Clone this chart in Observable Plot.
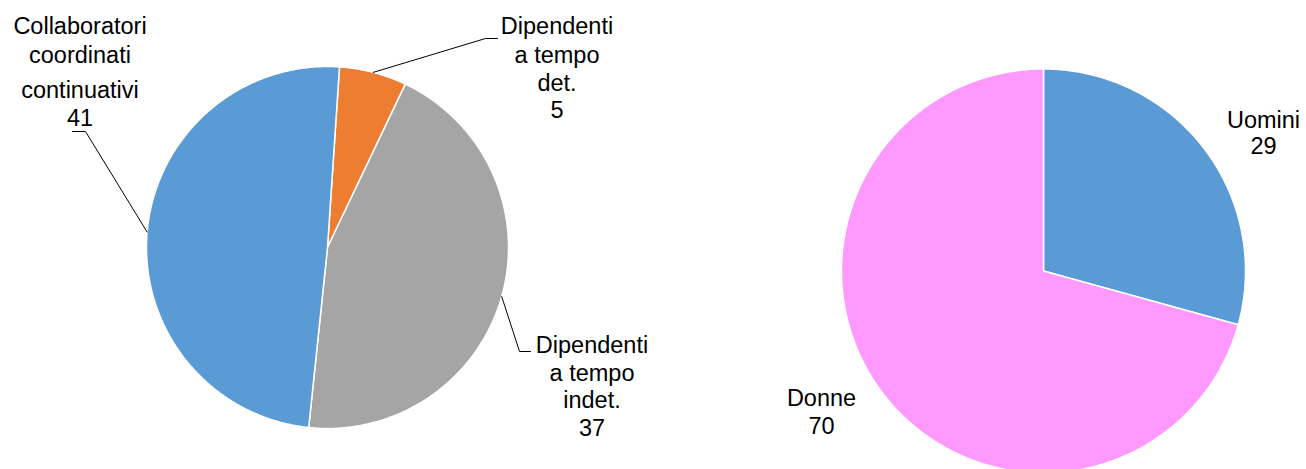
<!DOCTYPE html>
<html><head><meta charset="utf-8">
<script src="https://cdn.jsdelivr.net/npm/d3@7"></script>
<script src="https://cdn.jsdelivr.net/npm/@observablehq/plot@0.6"></script>
<style>body{margin:0;background:#fff;color:#000} svg{display:block}</style>
</head><body><div id="chart"></div>
<script>
// ---- data ----
const contractCategories = ["Dipendenti\na tempo\ndet.", "Dipendenti\na tempo\nindet.", "Collaboratori\ncoordinati\ncontinuativi"];
const contractValues = [5, 37, 41];
const contractColors = ["#ED7D31", "#A5A5A5", "#5B9BD5"];
const genderCategories = ["Uomini", "Donne"];
const genderValues = [29, 70];
const genderColors = ["#5B9BD5", "#FF99FF"];

// ---- layout ----
const W = 1306, H = 469;
const FONT = "'Liberation Sans', Arial, sans-serif";
const FS = 23.5;
const leftPie = {cx: 327, cy: 247, r: 181, start: 3.8 * Math.PI / 180};
const rightPie = {cx: 1043, cy: 270.5, r: 202, start: 0};
// label anchors: x center, baselines per line; optional leader elbow points
const contractLabelLayout = [
  {x: 556.5, ys: [33, 62, 90, 117], leader: [[485, 38], [497, 38]]},
  {x: 591.5, ys: [352, 380, 407, 435], leader: [[519, 351], [530, 351]]},
  {x: 79.5, ys: [33, 62, 97, 125], leader: [[85, 131], [72, 131]]}
];
const genderLabelLayout = [
  {x: 1263, ys: [127, 153]},
  {x: 821, ys: [405, 433]}
];

function buildPie(cats, vals, pie) {
  const arcs = d3.pie().sort(null).startAngle(pie.start).endAngle(pie.start + 2 * Math.PI)(vals);
  const pts = [];
  arcs.forEach((a, i) => {
    const k = cats[i];
    pts.push({k, x: pie.cx, y: pie.cy});
    const n = Math.max(2, Math.ceil((a.endAngle - a.startAngle) / (Math.PI / 360)));
    for (let j = 0; j <= n; j++) {
      const t = a.startAngle + (a.endAngle - a.startAngle) * j / n;
      pts.push({k, x: pie.cx + pie.r * Math.sin(t), y: pie.cy - pie.r * Math.cos(t)});
    }
    pts.push({k, x: pie.cx, y: pie.cy});
  });
  return {pts, arcs};
}

const left = buildPie(contractCategories, contractValues, leftPie);
const right = buildPie(genderCategories, genderValues, rightPie);

function labelRows(cats, vals, layout) {
  const rows = [];
  cats.forEach((c, i) => {
    const lines = c.split("\n").concat(String(vals[i]));
    lines.forEach((t, j) => rows.push({x: layout[i].x, y: layout[i].ys[j], text: t}));
  });
  return rows;
}
const textRows = labelRows(contractCategories, contractValues, contractLabelLayout)
  .concat(labelRows(genderCategories, genderValues, genderLabelLayout));

const leaderRows = [];
left.arcs.forEach((a, i) => {
  const L = contractLabelLayout[i].leader;
  if (!L) return;
  const mid = (a.startAngle + a.endAngle) / 2;
  leaderRows.push({g: i, x: leftPie.cx + leftPie.r * Math.sin(mid), y: leftPie.cy - leftPie.r * Math.cos(mid)});
  L.forEach(([x, y]) => leaderRows.push({g: i, x, y}));
});

const chart = Plot.plot({
  width: W, height: H, margin: 0,
  x: {domain: [0, W], range: [0, W], axis: null},
  y: {domain: [0, H], range: [0, H], axis: null},
  color: {domain: contractCategories.concat(genderCategories), range: contractColors.concat(genderColors)},
  style: {fontFamily: FONT, background: "#fff"},
  marks: [
    Plot.line(left.pts, {x: "x", y: "y", z: "k", fill: "k", stroke: "white", strokeWidth: 1.5}),
    Plot.line(right.pts, {x: "x", y: "y", z: "k", fill: "k", stroke: "white", strokeWidth: 1.5}),
    Plot.line(leaderRows, {x: "x", y: "y", z: "g", stroke: "black", strokeWidth: 1}),
    Plot.text(textRows, {x: "x", y: "y", text: "text", textAnchor: "middle", lineAnchor: "bottom", fontSize: FS, fontFamily: FONT, fill: "black"})
  ]
});
document.getElementById("chart").appendChild(chart);
</script>
</body></html>
